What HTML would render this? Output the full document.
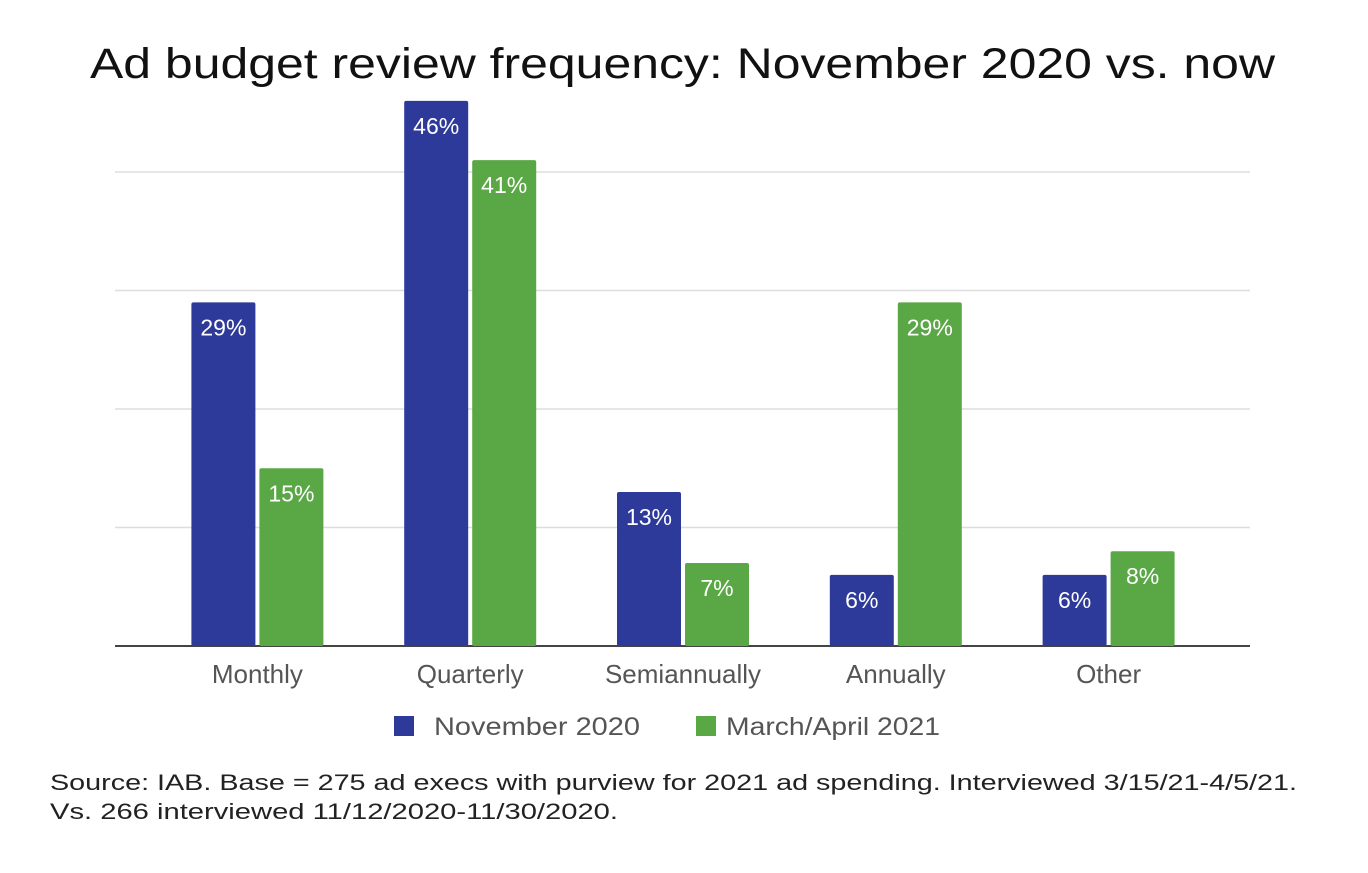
<!DOCTYPE html>
<html><head><meta charset="utf-8"><style>
body{margin:0;background:#fff;width:1368px;height:868px;overflow:hidden;font-family:"Liberation Sans",sans-serif}
</style></head><body>
<svg width="1368" height="868" xmlns="http://www.w3.org/2000/svg">
<text x="90" y="78" font-size="43" fill="#111" textLength="1185" lengthAdjust="spacingAndGlyphs">Ad budget review frequency: November 2020 vs. now</text>
<g id="grid"></g>
<g id="bars"></g>
<g id="xlabels"></g>
<g>
<rect x="394" y="716" width="20" height="20" fill="#2e3a9a"/>
<text x="434" y="735" font-size="25" fill="#555" textLength="206" lengthAdjust="spacingAndGlyphs">November 2020</text>
<rect x="696" y="716" width="20" height="20" fill="#5aa845"/>
<text x="726" y="735" font-size="25" fill="#555" textLength="214" lengthAdjust="spacingAndGlyphs">March/April 2021</text>
</g>
<text x="50" y="790" font-size="22" fill="#222" textLength="1247" lengthAdjust="spacingAndGlyphs">Source: IAB. Base = 275 ad execs with purview for 2021 ad spending. Interviewed 3/15/21-4/5/21.</text>
<text x="50" y="819" font-size="22" fill="#222" textLength="568" lengthAdjust="spacingAndGlyphs">Vs. 266 interviewed 11/12/2020-11/30/2020.</text>
</svg>
<script>
const categories=["Monthly","Quarterly","Semiannually","Annually","Other"];
const nov2020=[29,46,13,6,6];
const marApr2021=[15,41,7,29,8];
const gridTicks=[0,10,20,30,40];
const NS="http://www.w3.org/2000/svg";
const y0=646,pxPer=11.85,left=151,bandW=212.8,barW=64,gap=4;
const y=v=>y0-v*pxPer;
const xc=i=>left+bandW*(i+0.5);
function mk(tag,attrs,parent){const e=document.createElementNS(NS,tag);for(const k in attrs)e.setAttribute(k,attrs[k]);parent.appendChild(e);return e;}
const grid=document.getElementById('grid');
gridTicks.forEach(t=>{
  const l=mk('line',{x1:115,x2:1250,y1:y(t),y2:y(t),stroke:t===0?'#444':'#ddd','stroke-width':t===0?2:1.5},grid);
  
  
});
const bars=document.getElementById('bars');
const series=[{vals:nov2020,color:'#2e3a9a',name:'nov2020',off:-barW-gap/2},{vals:marApr2021,color:'#5aa845',name:'marapr2021',off:gap/2}];
series.forEach(s=>{
  s.vals.forEach((v,i)=>{
    const x=xc(i)+s.off;
    const r=mk('rect',{x:x,y:y(v),width:barW,height:y0-y(v),fill:s.color,rx:2},bars);
    
    
    const t=mk('text',{x:x+barW/2,y:y(v)+33,'text-anchor':'middle','font-size':23,fill:'#fff'},bars);
    t.textContent=v+'%';
    
    
  });
});
const xl=document.getElementById('xlabels');
categories.forEach((c,i)=>{
  const t=mk('text',{x:xc(i),y:683,'text-anchor':'middle','font-size':26,fill:'#555'},xl);
  t.textContent=c;
  
  
});
</script>
</body></html>
